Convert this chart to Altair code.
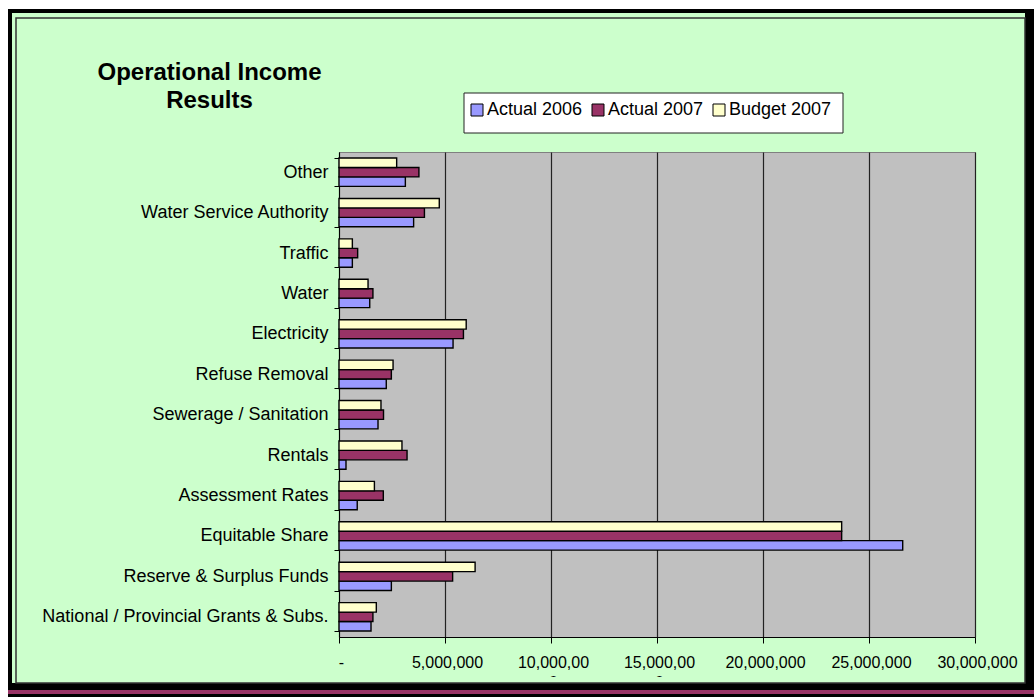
import altair as alt
import pandas as pd

categories = ["Other", "Water Service Authority", "Traffic", "Water", "Electricity",
              "Refuse Removal", "Sewerage / Sanitation", "Rentals", "Assessment Rates",
              "Equitable Share", "Reserve & Surplus Funds",
              "National / Provincial Grants & Subs."]
actual_2006 = [3130000, 3520000, 630000, 1450000, 5380000, 2230000, 1840000, 330000,
               860000, 26590000, 2470000, 1510000]
actual_2007 = [3770000, 4030000, 880000, 1600000, 5870000, 2470000, 2100000, 3210000,
               2090000, 23710000, 5360000, 1600000]
budget_2007 = [2720000, 4730000, 630000, 1370000, 6000000, 2550000, 1980000, 2970000,
               1670000, 23710000, 6420000, 1760000]
series = ["Actual 2006", "Actual 2007", "Budget 2007"]
colors = ["#9999FF", "#993366", "#FFFFCC"]
x_ticks = [0, 5000000, 10000000, 15000000, 20000000, 25000000, 30000000]
title_lines = ["Operational Income", "Results"]

rows = []
for s, vals in zip(series, [actual_2006, actual_2007, budget_2007]):
    for c, v in zip(categories, vals):
        rows.append({"category": c, "series": s, "value": v})
df = pd.DataFrame(rows)

FONT = "Liberation Sans, Arial, sans-serif"
NB = "\u00a0"
GREEN = "#CCFFCC"

label_expr = (
    "datum.value == 0 ? '-" + NB * 5 + "' : "
    "datum.value == 10000000 ? ['10,000,00', '0'] : "
    "datum.value == 15000000 ? ['15,000,00', '0'] : format(datum.value, ',')"
)

bars = alt.Chart(df).mark_bar(stroke="black", strokeWidth=1.4).encode(
    x=alt.X("value:Q",
            scale=alt.Scale(domain=[0, 30000000], nice=False, zero=True),
            axis=alt.Axis(values=x_ticks, title=None, grid=True, gridColor="#222222",
                          gridWidth=1.2, domainColor="black", tickColor="black",
                          tickSize=6, labelFontSize=16, labelFont=FONT,
                          labelColor="black", labelPadding=11, labelLineHeight=20,
                          labelExpr=label_expr, labelOffset=2, labelFlush=False,
                          labelOverlap=False)),
    y=alt.Y("category:N", sort=categories,
            scale=alt.Scale(paddingInner=0.3, paddingOuter=0.15),
            axis=alt.Axis(title=None, tickBand="extent", tickSize=5, tickColor="black",
                          domainColor="black", labelFontSize=18, labelFont=FONT,
                          labelColor="black", labelPadding=6, labelLimit=500,
                          grid=False)),
    yOffset=alt.YOffset("series:N", sort=["Budget 2007", "Actual 2007", "Actual 2006"],
                        scale=alt.Scale(paddingInner=0, paddingOuter=0)),
    color=alt.Color("series:N",
                    scale=alt.Scale(domain=series, range=colors),
                    legend=alt.Legend(orient="none", legendX=129, legendY=-51,
                                      direction="horizontal", title=None,
                                      padding=0, columnPadding=6, labelFontSize=18,
                                      labelFont=FONT, labelColor="black",
                                      symbolSize=144, symbolType="square",
                                      symbolStrokeColor="black", symbolStrokeWidth=1,
                                      labelOffset=1)),
)

blank = alt.Data(values=[{}])


def box(x0, x1, y0, y1, color):
    return alt.Chart(blank).mark_rect(fill=color, stroke=None).encode(
        x=alt.value(x0), x2=alt.value(x1), y=alt.value(y0), y2=alt.value(y1))


# frame pieces (plot origin at page pixel 339,152)
white_top = box(-339, 695, -152, -143, "white")
white_left = box(-339, -331, -152, 545, "white")
black_top = box(-331, 695, -143, -139, "black")
black_left = box(-331, -327, -143, 545, "black")
black_right = box(686, 695, -143, 545, "black")
clip_strip = box(-327, 686, 525, 531, GREEN)
black_bottom = box(-331, 695, 531, 545, "black")
maroon = box(-331, 695, 538, 542, "#993366")
inner = alt.Chart(blank).mark_rect(fill=None, stroke="#333333", strokeWidth=1.5).encode(
    x=alt.value(-323), x2=alt.value(686), y=alt.value(-134), y2=alt.value(531))
legend_box = alt.Chart(blank).mark_rect(fill="white", stroke="#222222",
                                        strokeWidth=1).encode(
    x=alt.value(125), x2=alt.value(504), y=alt.value(-59), y2=alt.value(-19))

title1 = alt.Chart(blank).mark_text(font=FONT, fontSize=24, fontWeight="bold",
                                    align="center", baseline="alphabetic",
                                    color="black").encode(
    x=alt.value(-129.5), y=alt.value(-72), text=alt.value(title_lines[0]))
title2 = alt.Chart(blank).mark_text(font=FONT, fontSize=24, fontWeight="bold",
                                    align="center", baseline="alphabetic",
                                    color="black").encode(
    x=alt.value(-129.5), y=alt.value(-44), text=alt.value(title_lines[1]))

chart = alt.layer(
    bars, white_top, white_left, black_top, black_left, black_right, clip_strip,
    black_bottom, maroon, inner, legend_box, title1, title2
).properties(
    width=636, height=485,
    padding={"left": 339, "top": 152, "right": 59, "bottom": 60},
    autosize=alt.AutoSizeParams(type="none"),
    background=GREEN,
).configure_view(
    fill="#C0C0C0", stroke="#808080", strokeWidth=1
)

chart.save("out.html", embed_options={"renderer": "svg", "actions": False})
